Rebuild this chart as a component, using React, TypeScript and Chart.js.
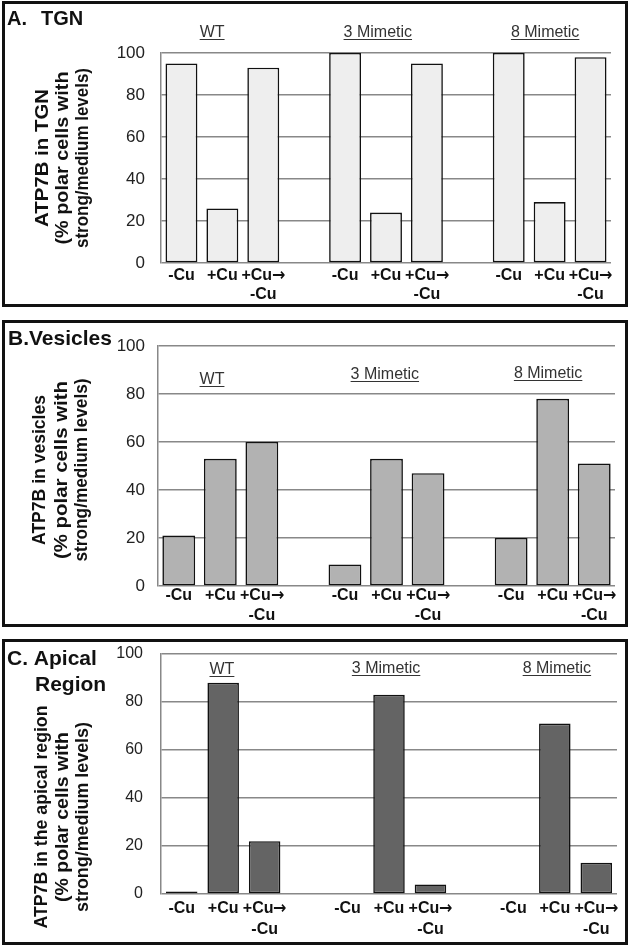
import React, { useEffect, useRef } from "react";
import { Chart, registerables } from "chart.js";

Chart.register(...registerables);

// ---------- data ----------
const categoryLabels: (string | string[])[] = [
  "-Cu", "+Cu", ["+Cu\u2192", "-Cu"], "",
  "-Cu", "+Cu", ["+Cu\u2192", "-Cu"], "",
  "-Cu", "+Cu", ["+Cu\u2192", "-Cu"],
];
const groupNames = ["WT", "3 Mimetic", "8 Mimetic"];
const yTicks = [0, 20, 40, 60, 80, 100];

const tgnValues = [95, 26, 93, null, 100, 24, 95, null, 100, 29, 98];
const vesicleValues = [21, 53, 60, null, 9, 53, 47, null, 20, 78, 51];
const apicalValues = [1, 88, 22, null, 0, 83, 4, null, 0, 71, 13];

const tgnAxisTitle = ["ATP7B in TGN", "(% polar cells with", "strong/medium levels)"];
const vesicleAxisTitle = ["ATP7B in vesicles", "(% polar cells with", "strong/medium levels)"];
const apicalAxisTitle = ["ATP7B in the apical region", "(% polar cells with", "strong/medium levels)"];

// ---------- layout / style ----------
const FAMILY = "'Liberation Sans', Arial, Helvetica, sans-serif";
const LABEL_FAMILY = "'ArrowMix', 'Liberation Sans', Arial, sans-serif";
const W = 633;

const FONT_CSS = `
@font-face { font-family: 'ArrowMix'; src: local('DejaVu Sans Bold'), local('DejaVuSans-Bold'); font-weight: bold; unicode-range: U+2192; }
@font-face { font-family: 'ArrowMix'; src: local('DejaVu Sans'), local('DejaVuSans'); font-weight: normal; unicode-range: U+2192; }
`;

type Panel = {
  values: (number | null)[];
  color: string;
  canvasTop: number;
  canvasHeight: number;
  boxTop: number;
  boxHeight: number;
  area: { left: number; right: number; top: number; bottom: number };
  tickFont: number;
  tickPad: number;
  xPad: number;
  xLineH: number;
  titleFont: number;
  titles: { text: string; x: number; y: number }[];
  axisTitle: string[];
  yTitleX: number[];
  yTitleY: number;
  yTitleLen: number[];
  groupPos: [number, number][];
  barPct: number;
};

const panels: Panel[] = [
  {
    values: tgnValues,
    color: "#eeeeee",
    canvasTop: 0,
    canvasHeight: 310,
    boxTop: 1,
    boxHeight: 306,
    area: { left: 161, right: 611, top: 53, bottom: 263 },
    tickFont: 17,
    tickPad: 16,
    xPad: 3.5,
    xLineH: 19,
    titleFont: 20,
    titles: [
      { text: "A.", x: 7, y: 25 },
      { text: "TGN", x: 41, y: 25 },
    ],
    axisTitle: tgnAxisTitle,
    yTitleX: [43, 63, 83],
    yTitleY: 158,
    yTitleLen: [138, 173, 180],
    groupPos: [[0.75, 109.5], [4.8, 109.5], [8.89, 109.5]],
    barPct: 0.78,
  },
  {
    values: vesicleValues,
    color: "#b2b2b2",
    canvasTop: 318,
    canvasHeight: 310,
    boxTop: 320,
    boxHeight: 307,
    area: { left: 158, right: 615, top: 28, bottom: 268 },
    tickFont: 17,
    tickPad: 13,
    xPad: 0,
    xLineH: 20,
    titleFont: 21,
    titles: [{ text: "B.Vesicles", x: 8, y: 27 }],
    axisTitle: vesicleAxisTitle,
    yTitleX: [40, 62, 82],
    yTitleY: 152,
    yTitleLen: [150, 178, 183],
    groupPos: [[0.8, 85.8], [4.96, 87.9], [8.89, 88.3]],
    barPct: 0.79,
  },
  {
    values: apicalValues,
    color: "#646464",
    canvasTop: 637,
    canvasHeight: 311,
    boxTop: 639,
    boxHeight: 306,
    area: { left: 161, right: 617, top: 17, bottom: 257 },
    tickFont: 16,
    tickPad: 18,
    xPad: 4.5,
    xLineH: 21,
    titleFont: 21,
    titles: [
      { text: "C. Apical", x: 7, y: 28 },
      { text: "Region", x: 35, y: 54 },
    ],
    axisTitle: apicalAxisTitle,
    yTitleX: [42, 63, 83],
    yTitleY: 180,
    yTitleLen: [223, 170, 190],
    groupPos: [[0.97, 93.3], [4.93, 93.75], [9.05, 93.75]],
    barPct: 0.76,
  },
];

function ensureFontCss() {
  if (typeof document === "undefined") return;
  if (document.getElementById("arrowmix-css")) return;
  const st = document.createElement("style");
  st.id = "arrowmix-css";
  st.textContent = FONT_CSS;
  document.head.appendChild(st);
}

function PanelChart({ p }: { p: Panel }) {
  const ref = useRef<HTMLCanvasElement | null>(null);

  useEffect(() => {
    ensureFontCss();
    let chart: Chart | null = null;
    let cancelled = false;

    const textPlugin = {
      id: "panelText",
      afterDraw(ch: any) {
        const ctx = ch.ctx as CanvasRenderingContext2D;
        ctx.save();
        ctx.fillStyle = "#111";
        ctx.textAlign = "left";
        ctx.textBaseline = "alphabetic";
        ctx.font = `bold ${p.titleFont}px ${FAMILY}`;
        p.titles.forEach((t) => ctx.fillText(t.text, t.x, t.y));

        ctx.font = `bold 18px ${FAMILY}`;
        p.axisTitle.forEach((line, i) => {
          const w = ctx.measureText(line).width;
          const sx = p.yTitleLen[i] / w;
          ctx.save();
          ctx.translate(p.yTitleX[i], p.yTitleY);
          ctx.rotate(-Math.PI / 2);
          ctx.scale(sx, 1);
          ctx.textAlign = "center";
          ctx.textBaseline = "middle";
          ctx.fillText(line, 0, 0);
          ctx.restore();
        });

        const xs = ch.scales.x;
        const ys = ch.scales.y;
        ctx.font = `16px ${FAMILY}`;
        ctx.fillStyle = "#333";
        ctx.strokeStyle = "#333";
        ctx.lineWidth = 1;
        groupNames.forEach((name, i) => {
          const [ci, v] = p.groupPos[i];
          const x = xs.getPixelForValue(ci);
          const y = ys.getPixelForValue(v);
          ctx.textAlign = "center";
          ctx.textBaseline = "middle";
          ctx.fillText(name, x, y);
          const w = ctx.measureText(name).width;
          const uy = Math.round(y + 6) + 0.5;
          ctx.beginPath();
          ctx.moveTo(x - w / 2, uy);
          ctx.lineTo(x + w / 2, uy);
          ctx.stroke();
        });
        ctx.restore();
      },
    };

    const build = () => {
      if (cancelled || !ref.current) return;
      chart = new Chart(ref.current, {
        type: "bar",
        data: {
          labels: categoryLabels as any,
          datasets: [
            {
              data: p.values as any,
              backgroundColor: p.color,
              borderColor: "#111",
              borderWidth: (c: any) => (c.raw ? 1.6 : 0),
              borderSkipped: false,
              barPercentage: p.barPct,
              categoryPercentage: 1,
            },
          ],
        },
        options: {
          animation: false,
          responsive: false,
          maintainAspectRatio: false,
          layout: {
            padding: { top: p.area.top, right: W - p.area.right, left: 0, bottom: 0 },
          },
          plugins: {
            legend: { display: false },
            tooltip: { enabled: false },
            title: { display: false },
          },
          scales: {
            x: {
              type: "category",
              offset: true,
              grid: { display: false, drawTicks: false },
              border: { display: false },
              ticks: {
                autoSkip: false,
                maxRotation: 0,
                minRotation: 0,
                padding: p.xPad,
                color: "#111",
                font: { family: LABEL_FAMILY, size: 16, weight: "bold", lineHeight: `${p.xLineH}px` },
              },
              afterFit: (s: any) => {
                s.height = p.canvasHeight - p.area.bottom;
                s.paddingLeft = 0;
                s.paddingRight = 0;
              },
            },
            y: {
              min: 0,
              max: 100,
              afterBuildTicks: (s: any) => {
                s.ticks = yTicks.map((v) => ({ value: v }));
              },
              grid: { color: "#888888", lineWidth: 1.5, drawTicks: false },
              border: { display: true, color: "#888888", width: 1.5 },
              ticks: {
                padding: p.tickPad,
                color: "#222",
                font: { family: FAMILY, size: p.tickFont },
              },
              afterFit: (s: any) => {
                s.width = p.area.left;
                s.paddingTop = 0;
                s.paddingBottom = 0;
              },
            },
          },
        } as any,
        plugins: [textPlugin as any],
      });
    };

    const fontsApi: any = (document as any).fonts;
    if (fontsApi && fontsApi.load) {
      Promise.race([
        fontsApi.load("bold 16px ArrowMix", "\u2192"),
        new Promise((r) => setTimeout(r, 800)),
      ])
        .catch(() => undefined)
        .then(build);
    } else {
      build();
    }

    return () => {
      cancelled = true;
      if (chart) chart.destroy();
    };
  }, [p]);

  return (
    <>
      <canvas
        ref={ref}
        width={W}
        height={p.canvasHeight}
        style={{ position: "absolute", left: 0, top: p.canvasTop, width: W, height: p.canvasHeight }}
      />
      <div
        style={{
          position: "absolute",
          left: 2,
          top: p.boxTop,
          width: 626,
          height: p.boxHeight,
          border: "3px solid #111",
          boxSizing: "border-box",
          pointerEvents: "none",
        }}
      />
    </>
  );
}

export default function App() {
  return (
    <div style={{ position: "absolute", left: 0, top: 0, width: W, height: 948, background: "#fff", overflow: "hidden" }}>
      {panels.map((p, i) => (
        <PanelChart key={i} p={p} />
      ))}
    </div>
  );
}
